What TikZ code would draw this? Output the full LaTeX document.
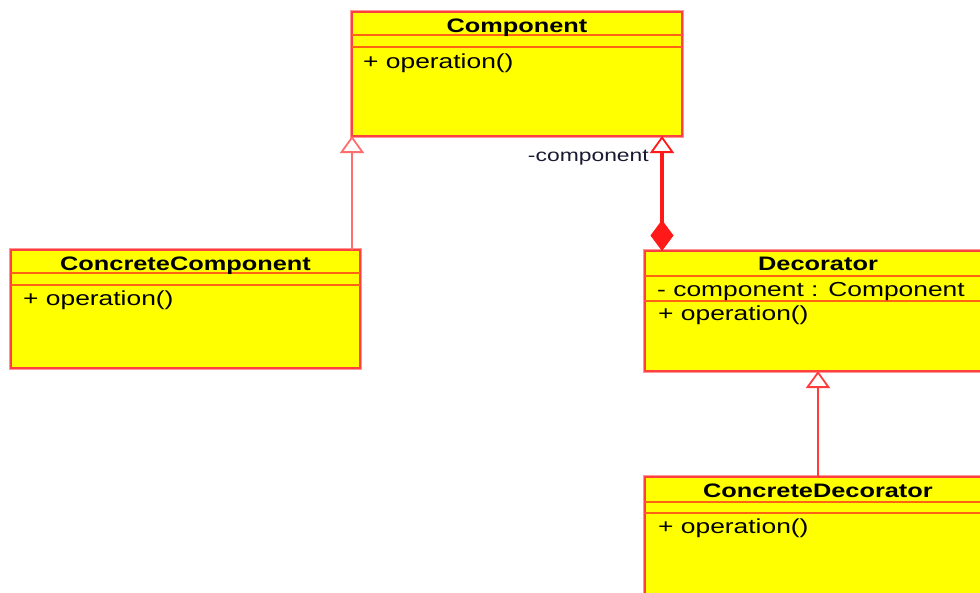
\documentclass[tikz,border=0pt]{standalone}
\usepackage{fontspec}
\setmainfont[FakeStretch=1.3]{Liberation Sans}
\usetikzlibrary{arrows.meta}

\definecolor{umlfill}{RGB}{255,255,0}
\definecolor{umlborder}{RGB}{255,64,64}
\definecolor{umlhalo}{RGB}{255,150,150}
\definecolor{umldiv}{RGB}{255,100,20}
\definecolor{umlline}{RGB}{255,60,60}
\definecolor{umlsoft}{RGB}{255,110,110}
\definecolor{umlstrong}{RGB}{255,25,25}
\definecolor{umllabel}{RGB}{25,25,50}

\tikzset{
  classbox/.style={rectangle, draw=umlborder, fill=umlfill, line width=2pt,
    inner sep=0pt, outer sep=0pt, anchor=north west,
    preaction={draw=umlhalo, line width=4pt}},
  divider/.style={draw=umldiv, line width=2.4pt},
  classname/.style={inner sep=0pt, anchor=base, font=\fontsize{19.5}{22}\selectfont\bfseries},
  member/.style={inner sep=0pt, anchor=base west, font=\fontsize{20.3}{24}\selectfont},
  rolelabel/.style={inner sep=0pt, anchor=base east, text=umllabel, font=\fontsize{17.6}{20}\selectfont},
  hollowtip/.tip={Triangle[length=17pt, width=24pt, fill=white, line width=1.8pt]},
  genline/.style={draw=umlline, line width=2.4pt, -hollowtip},
  compline/.style={draw=umlstrong, line width=3.4pt,
    {Diamond[length=31pt, width=23pt, fill=umlstrong, line width=1pt]}-hollowtip},
}

\begin{document}
\begin{tikzpicture}[x=1pt, y=-1pt]
\clip (0,0) rectangle (980,592);
\fill[white] (0,0) rectangle (980,592);

% Component
\node[classbox, minimum width=330pt, minimum height=124pt] (comp) at (352,12) {};
\draw[divider] ([yshift=-23pt]comp.north west) -- ([yshift=-23pt]comp.north east);
\draw[divider] ([yshift=-35pt]comp.north west) -- ([yshift=-35pt]comp.north east);
\node[classname] (compT) at (517,32) {Component};
\node[member] (compOp) at (363,68) {+ operation()};

% ConcreteComponent
\node[classbox, minimum width=349pt, minimum height=118pt] (cc) at (11,250) {};
\draw[divider] ([yshift=-23pt]cc.north west) -- ([yshift=-23pt]cc.north east);
\draw[divider] ([yshift=-35pt]cc.north west) -- ([yshift=-35pt]cc.north east);
\node[classname] (ccT) at (185.5,270) {ConcreteComponent};
\node[member] (ccOp) at (23,305) {+ operation()};

% Decorator
\node[classbox, minimum width=346pt, minimum height=120pt] (dec) at (645,251) {};
\draw[divider] ([yshift=-25pt]dec.north west) -- ([yshift=-25pt]dec.north east);
\draw[divider] ([yshift=-50pt]dec.north west) -- ([yshift=-50pt]dec.north east);
\node[classname] (decT) at (818,270) {Decorator};
\node[member] (decAttr) at (657,296) {- component : Component};
\node[member] (decOp) at (658,320) {+ operation()};

% ConcreteDecorator
\node[classbox, minimum width=346pt, minimum height=130pt] (cd) at (645,477) {};
\draw[divider] ([yshift=-25pt]cd.north west) -- ([yshift=-25pt]cd.north east);
\draw[divider] ([yshift=-36pt]cd.north west) -- ([yshift=-36pt]cd.north east);
\node[classname] (cdT) at (818,497) {ConcreteDecorator};
\node[member] (cdOp) at (658,533) {+ operation()};

% Relations
\coordinate (aggEnd) at (662,136);
\draw[genline, draw=umlsoft] (cc.north -| comp.south west) -- (comp.south west);
\draw[compline] (dec.north -| aggEnd) -- (aggEnd);
\node[rolelabel] (role) at (649,161) {-component};
\draw[genline] (cd.north) -- (dec.south);
\end{tikzpicture}
\end{document}
